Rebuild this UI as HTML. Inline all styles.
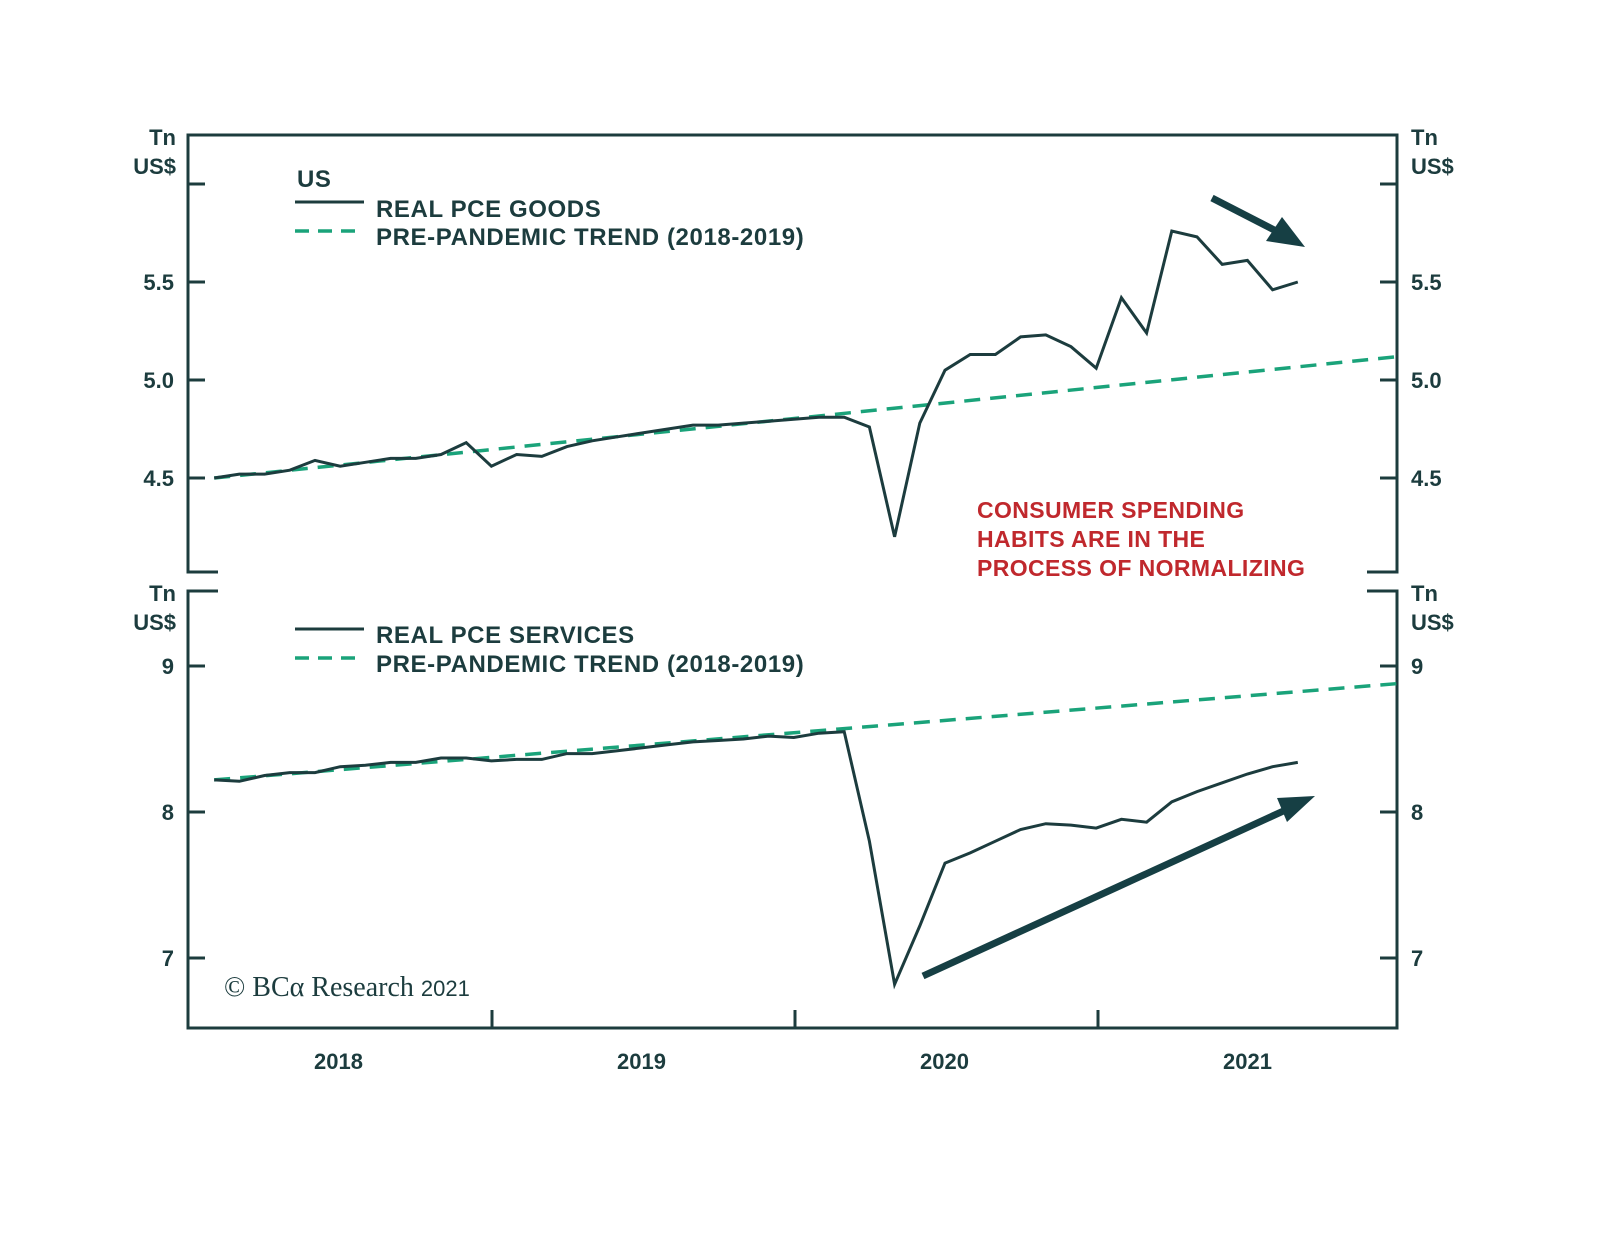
<!DOCTYPE html>
<html><head><meta charset="utf-8"><style>
body{margin:0;background:#fff;}
svg{display:block;font-family:"Liberation Sans",sans-serif;}
.ax{fill:#1c3c3e;font-weight:bold;font-size:22px;}
.lg{fill:#1c3c3e;font-weight:bold;font-size:24px;letter-spacing:0.6px;}
</style></head><body>
<svg id="chart" width="1600" height="1237" viewBox="0 0 1600 1237" xmlns="http://www.w3.org/2000/svg">
<g id="frame" stroke="#1c3c3e" stroke-width="3" fill="none">
<path d="M218,572 H188 V135 H1397 V572 H1367"/>
<path d="M218,591 H188 V1028 H1397 V591 H1367"/>
</g>
<g id="ticks" stroke="#1c3c3e" stroke-width="3"></g>
<g id="labels"></g>
<g>
<text class="lg" x="297" y="187">US</text>
<line x1="295" y1="202" x2="364" y2="202" stroke="#1c3c3e" stroke-width="3"/>
<text class="lg" x="376" y="217">REAL PCE GOODS</text>
<line x1="295" y1="231" x2="364" y2="231" stroke="#1aa37a" stroke-width="3.5" stroke-dasharray="14,9"/>
<text class="lg" x="376" y="245">PRE-PANDEMIC TREND (2018-2019)</text>
</g>
<g>
<line x1="295" y1="629" x2="364" y2="629" stroke="#1c3c3e" stroke-width="3"/>
<text class="lg" x="376" y="643">REAL PCE SERVICES</text>
<line x1="295" y1="658" x2="364" y2="658" stroke="#1aa37a" stroke-width="3.5" stroke-dasharray="14,9"/>
<text class="lg" x="376" y="672">PRE-PANDEMIC TREND (2018-2019)</text>
</g>
<g fill="#c0282d" font-size="23" font-weight="bold" letter-spacing="0.4">
<text x="977" y="518">CONSUMER SPENDING</text>
<text x="977" y="547">HABITS ARE IN THE</text>
<text x="977" y="576">PROCESS OF NORMALIZING</text>
</g>
<text x="224" y="996" font-family="Liberation Serif,serif" font-size="28" fill="#1c3c3e">© BCα Research <tspan font-family="Liberation Sans,sans-serif" font-size="22">2021</tspan></text>
<g id="series"></g>
<g stroke="#163f44" fill="#163f44">
<line x1="1212" y1="198" x2="1280" y2="233" stroke-width="7"/>
<polygon points="1305,247 1266,241 1282,217" stroke="none"/>
<line x1="923" y1="976" x2="1290" y2="808" stroke-width="7"/>
<polygon points="1315,796 1287,822 1277,798" stroke="none"/>
</g>
</svg>
<script>
const goods=[4.50,4.52,4.52,4.54,4.59,4.56,4.58,4.60,4.60,4.62,4.68,4.56,4.62,4.61,4.66,4.69,4.71,4.73,4.75,4.77,4.77,4.78,4.79,4.80,4.81,4.81,4.76,4.20,4.78,5.05,5.13,5.13,5.22,5.23,5.17,5.06,5.42,5.24,5.76,5.73,5.59,5.61,5.46,5.50];
const goodsTrend=[4.50,5.12];
const services=[8.22,8.21,8.25,8.27,8.27,8.31,8.32,8.34,8.34,8.37,8.37,8.35,8.36,8.36,8.40,8.40,8.42,8.44,8.46,8.48,8.49,8.50,8.52,8.51,8.54,8.55,7.80,6.82,7.22,7.65,7.72,7.80,7.88,7.92,7.91,7.89,7.95,7.93,8.07,8.14,8.20,8.26,8.31,8.34];
const servicesTrend=[8.22,8.88];
const trendMonths=[0,47];
const topTicks=[6.0,5.5,5.0,4.5];
const topTickLabels=["","5.5","5.0","4.5"];
const botTicks=[9,8,7];
const botTickLabels=["9","8","7"];
const years=["2018","2019","2020","2021"];
const NS="http://www.w3.org/2000/svg";
const xM=i=>189+25.2*(i+1);
const yTop=v=>380-(v-5.0)*196;
const yBot=v=>812-(v-8)*146;
function mk(tag,attrs,parent){const e=document.createElementNS(NS,tag);for(const k in attrs)e.setAttribute(k,attrs[k]);parent.appendChild(e);return e;}
const tk=document.getElementById('ticks'),lb=document.getElementById('labels'),sr=document.getElementById('series');
function ticks(vals,labs,yf){vals.forEach((v,i)=>{const y=yf(v);
let l=mk('line',{x1:188,y1:y,x2:205,y2:y},tk);
l=mk('line',{x1:1380,y1:y,x2:1397,y2:y},tk);
if(labs[i]){let t=mk('text',{x:174,y:y+8,'text-anchor':'end',class:'ax'},lb);t.textContent=labs[i];
t=mk('text',{x:1411,y:y+8,class:'ax'},lb);t.textContent=labs[i];}});}
ticks(topTicks,topTickLabels,yTop);ticks(botTicks,botTickLabels,yBot);
[[135],[591]].forEach(([y0])=>{[[176,'end'],[1411,'start']].forEach(([x,a])=>{
let t=mk('text',{x:x,y:y0+10,'text-anchor':a,class:'ax','font-size':'23'},lb);t.textContent='Tn';
t=mk('text',{x:x,y:y0+39,'text-anchor':a,class:'ax','font-size':'23'},lb);t.textContent='US$';});});
years.forEach((yr,i)=>{const xc=189+303*i+151.5;
const t=mk('text',{x:xc-2,y:1069,'text-anchor':'middle',class:'ax'},lb);t.textContent=yr;
if(i>0){const l=mk('line',{x1:189+303*i,y1:1010,x2:189+303*i,y2:1028},tk);}});
function line(arr,yf,name,stroke,dash,xs){const d=arr.map((v,i)=>(i?'L':'M')+xM(xs?xs[i]:i).toFixed(1)+','+yf(v).toFixed(1)).join(' ');
const p=mk('path',{d:d,fill:'none',stroke:stroke,'stroke-width':dash?3.5:3,'stroke-linejoin':'miter'},sr);if(dash)p.setAttribute('stroke-dasharray','16,10');
}
line(goodsTrend,yTop,'goods-trend-line','#1aa37a',true,trendMonths);
line(goods,yTop,'goods-line','#1c3c3e',false);
line(servicesTrend,yBot,'services-trend-line','#1aa37a',true,trendMonths);
line(services,yBot,'services-line','#1c3c3e',false);
</script>
</body></html>
